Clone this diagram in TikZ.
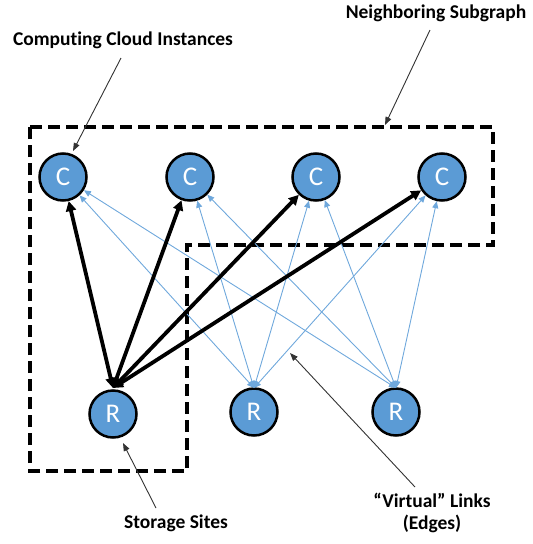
\documentclass[tikz,border=0pt]{standalone}
\usepackage{fontspec}
\setmainfont{Carlito}[Ligatures=NoCommon]
\usetikzlibrary{arrows.meta}
\definecolor{nodeblue}{HTML}{5B9BD5}
\definecolor{linkblue}{HTML}{6FA8DC}
\tikzset{
  vnode/.style={circle, draw=black, line width=2.5pt, fill=nodeblue, minimum size=47pt, inner sep=0pt, text=white, font=\fontsize{27}{30}\selectfont},
  lbl/.style={font=\bfseries\fontsize{19.5}{22}\selectfont, align=center, inner sep=0pt},
  thicklink/.style={line width=3.8pt, {Triangle[length=10pt,width=10pt]}-{Triangle[length=10pt,width=10pt]}},
  thinlink/.style={linkblue, line width=0.9pt, {Triangle[length=7pt,width=6pt]}-{Triangle[length=7pt,width=6pt]}},
  pointer/.style={black!80, line width=0.9pt, -{Triangle[length=8pt,width=6pt]}},
  subgraph/.style={line width=4pt, dash pattern=on 12pt off 6pt}
}
\begin{document}
\begin{tikzpicture}[x=1pt,y=-1pt]
\useasboundingbox (0,0) rectangle (533,544);
% subgraph
\draw[subgraph] (30,127) -- (493,127) -- (493,245) -- (187,245) -- (187,471) -- (30,471) -- cycle;
% nodes
\node[vnode] (C1) at (63,177) {C};
\node[vnode] (C2) at (190,177) {C};
\node[vnode] (C3) at (316,177) {C};
\node[vnode] (C4) at (442,177) {C};
\node[vnode] (R1) at (113,414) {R};
\node[vnode] (R2) at (254,412) {R};
\node[vnode] (R3) at (396,412) {R};
\coordinate (R1t) at (113,388);
\coordinate (R2t) at (254,388);
\coordinate (R3t) at (396,388);
% thin links
\foreach \c in {C1,C2,C3,C4}{
  \draw[thinlink] (R2t) -- (\c);
  \draw[thinlink] (R3t) -- (\c);
}
% thick links
\foreach \c in {C1,C2,C3,C4}{
  \draw[thicklink] (R1t) -- (\c);
}
% labels
\node[lbl] (lcc) at (123,40) {Computing Cloud Instances};
\node[lbl] (lns) at (436,13) {Neighboring Subgraph};
\node[lbl] (lss) at (176,523) {Storage Sites};
\node[lbl] (lvl) at (432,513) {“Virtual” Links\\(Edges)};
\coordinate (pcc) at (73,151);
\coordinate (pns) at (385,125);
\coordinate (pss) at (123,443);
\coordinate (pvl) at (290,353);
\coordinate (scc) at (121,58);
\coordinate (sns) at (430,30);
\coordinate (sss) at (156,508);
\coordinate (svl) at (415,487);
\draw[pointer] (scc) -- (pcc);
\draw[pointer] (sns) -- (pns);
\draw[pointer] (sss) -- (pss);
\draw[pointer] (svl) -- (pvl);
\end{tikzpicture}
\end{document}
